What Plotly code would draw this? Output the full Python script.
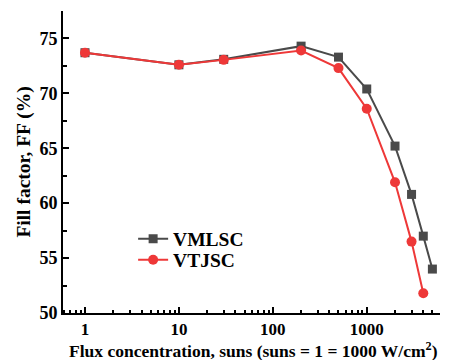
import plotly.graph_objects as go

x_vml = [1, 10, 30, 200, 500, 1000, 2000, 3000, 4000, 5000]
ff_vml = [73.7, 72.6, 73.1, 74.3, 73.3, 70.4, 65.2, 60.8, 57.0, 54.0]
x_vtj = [1, 10, 30, 200, 500, 1000, 2000, 3000, 4000]
ff_vtj = [73.7, 72.6, 73.05, 73.9, 72.3, 68.6, 61.9, 56.5, 51.8]
x_minor = [m * d for d in (0.1, 1, 10, 100, 1000) for m in range(2, 10) if 0.6 <= m * d <= 5900]

FONT = "Liberation Serif"
font = dict(family=FONT, size=18, color="black")
legfont = dict(family=FONT, size=19.5, color="black")

W, H = 454, 360
ML, MR, MT, MB = 63, 14, 11, 47
PH = H - MT - MB

fig = go.Figure()
fig.add_trace(go.Scatter(x=x_vml, y=ff_vml, mode="lines+markers", name="<b>VMLSC</b>",
                         line=dict(color="#4a4a4a", width=2),
                         marker=dict(symbol="square", size=9, color="#4a4a4a"),
                         legend="legend"))
fig.add_trace(go.Scatter(x=x_vtj, y=ff_vtj, mode="lines+markers", name="<b>VTJSC</b>",
                         line=dict(color="#ee3838", width=2),
                         marker=dict(symbol="circle", size=10, color="#ee3838"),
                         legend="legend2"))

fig.update_layout(
    width=W, height=H, margin=dict(l=ML, r=MR, t=MT, b=MB),
    plot_bgcolor="white", paper_bgcolor="white", font=font,
    showlegend=True,
    legend=dict(x=0.186, y=(H - MB - 239) / PH, xanchor="left", yanchor="middle",
                bgcolor="rgba(0,0,0,0)", font=legfont),
    legend2=dict(x=0.186, y=(H - MB - 260) / PH, xanchor="left", yanchor="middle",
                 bgcolor="rgba(0,0,0,0)", font=legfont),
    annotations=[dict(text="<b>Flux concentration, suns (suns = 1 = 1000 W/cm<sup>2</sup>)</b>",
                      xref="paper", yref="paper", x=(253 - ML) / (W - ML - MR),
                      y=-(349.5 - (H - MB)) / PH, xanchor="center", yanchor="middle",
                      showarrow=False, font=dict(family=FONT, size=17.5, color="black"))],
)
fig.update_xaxes(type="log", range=[-0.234, 3.78], showline=True, linecolor="black", linewidth=2,
                 automargin=False,
                 ticks="inside", ticklen=6, tickwidth=2, tickcolor="black",
                 tickvals=[1, 10, 100, 1000], ticktext=["<b>1</b>", "<b>10</b>", "<b>100</b>", "<b>1000</b>"],
                 tickfont=dict(family=FONT, size=17),
                 showgrid=False, zeroline=False,
                 minor=dict(ticks="inside", ticklen=3, tickwidth=1.5, tickcolor="black", showgrid=False,
                            tickvals=x_minor))
fig.update_yaxes(range=[50, 77.5], showline=True, linecolor="black", linewidth=2,
                 automargin=False,
                 ticks="inside", ticklen=6, tickwidth=2, tickcolor="black",
                 tickvals=[50, 55, 60, 65, 70, 75], ticktext=["<b>50</b>", "<b>55</b>", "<b>60</b>", "<b>65</b>", "<b>70</b>", "<b>75</b>"],
                 tickfont=dict(family=FONT, size=18),
                 showgrid=False, zeroline=False,
                 minor=dict(ticks="inside", ticklen=4, tickwidth=1.5, tickcolor="black", dtick=2.5, showgrid=False),
                 title=dict(text="<b>Fill factor, FF (%)</b>", font=dict(family=FONT, size=19.5), standoff=4))

fig.write_html("out.html")
